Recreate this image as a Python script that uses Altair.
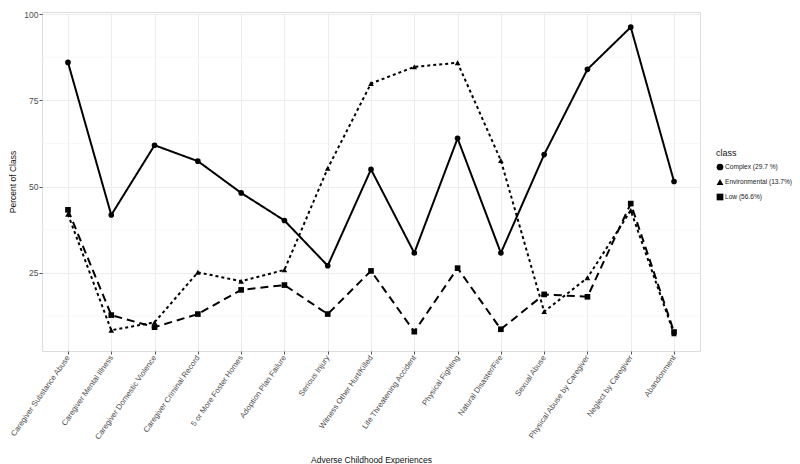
import altair as alt
import pandas as pd

categories = [
    "Caregiver Substance Abuse", "Caregiver Mental Illness", "Caregiver Domestic Violence",
    "Caregiver Criminal Record", "5 or More Foster Homes", "Adoption Plan Failure",
    "Serious Injury", "Witness Other Hurt/Killed", "Life Threatening Accident",
    "Physical Fighting", "Natural Disaster/Fire", "Sexual Abuse",
    "Physical Abuse by Caregiver", "Neglect by Caregiver", "Abandonment",
]
class_labels = ["Complex (29.7 %)", "Environmental (13.7%)", "Low (56.6%)"]
complex_vals = [86.0, 41.8, 62.0, 57.4, 48.2, 40.2, 27.1, 55.0, 30.8, 64.0, 30.8, 59.3, 84.0, 96.2, 51.5]
env_vals = [42.0, 8.4, 10.7, 25.2, 22.6, 25.9, 55.3, 79.9, 84.7, 85.9, 57.6, 13.8, 23.6, 43.1, 7.4]
low_vals = [43.3, 12.8, 9.3, 13.1, 20.1, 21.5, 13.1, 25.6, 8.0, 26.4, 8.7, 18.8, 18.1, 45.1, 7.9]
major_ticks = [25, 50, 75, 100]
minor_ticks = [12.5, 37.5, 62.5, 87.5]

rows = []
for cls, vals in zip(class_labels, [complex_vals, env_vals, low_vals]):
    for i, (c, v) in enumerate(zip(categories, vals)):
        rows.append({"ace": c, "pct": v, "class": cls, "ord": i})
df = pd.DataFrame(rows)
minor_df = pd.DataFrame({"pct": minor_ticks})

x_enc = alt.X("ace:N", sort=categories,
              scale=alt.Scale(type="point", padding=0.6),
              axis=alt.Axis(title="Adverse Childhood Experiences", labelAngle=305,
                            labelFontSize=7.8, labelColor="#4d4d4d", grid=True,
                            gridColor="#ececec", gridWidth=1, domain=False,
                            tickColor="#555555", tickSize=3, labelPadding=2,
                            titleFontSize=8.5, titleFontWeight="normal", titleColor="#111111",
                            titleY=108, titleBaseline="middle"))
y_scale = alt.Scale(domain=[2.4, 100.6], nice=False, zero=False)
y_axis = alt.Axis(title="Percent of Class", values=major_ticks, labelFontSize=8.5,
                  labelColor="#4d4d4d", grid=True, gridColor="#ececec", gridWidth=1,
                  domain=False, tickColor="#555555", tickSize=3, labelPadding=1,
                  titleFontSize=8.5, titleFontWeight="normal", titleColor="#111111",
                  titleX=-30, titleBaseline="middle")
y_enc = alt.Y("pct:Q", scale=y_scale, axis=y_axis)

legend = alt.Legend(title="class", orient="none", legendX=674, legendY=137,
                    titleFontSize=9, titleFontWeight="normal",
                    titleColor="#111111", labelFontSize=6.6,
                    labelColor="#222222", symbolFillColor="black",
                    symbolStrokeColor="black", symbolSize=45, symbolStrokeWidth=1,
                    rowPadding=4, titlePadding=5, labelOffset=1)

minor = alt.Chart(minor_df).mark_rule(color="#f4f4f4", strokeWidth=0.6).encode(y=y_enc)

lines = alt.Chart(df).mark_line(color="black", strokeWidth=2).encode(
    x=x_enc, y=y_enc,
    strokeDash=alt.StrokeDash("class:N", scale=alt.Scale(domain=class_labels,
                              range=[[1, 0], [3, 3], [8, 5]]), legend=legend),
    order="ord:Q",
)
points = alt.Chart(df).mark_point(filled=True, color="black", opacity=1, size=32).encode(
    x=x_enc, y=y_enc,
    shape=alt.Shape("class:N", scale=alt.Scale(domain=class_labels,
                    range=["circle", "triangle-up", "square"]), legend=legend),
)

chart = alt.layer(minor, lines, points).properties(
    width=658, height=339,
    autosize=alt.AutoSizeParams(type="none"),
    padding={"left": 34, "top": 4, "right": 92, "bottom": 113},
).configure_view(
    stroke="#9a9a9a", strokeWidth=1
).configure(font="Liberation Sans")

chart.save("out.html", embed_options={"renderer": "svg", "actions": False})
